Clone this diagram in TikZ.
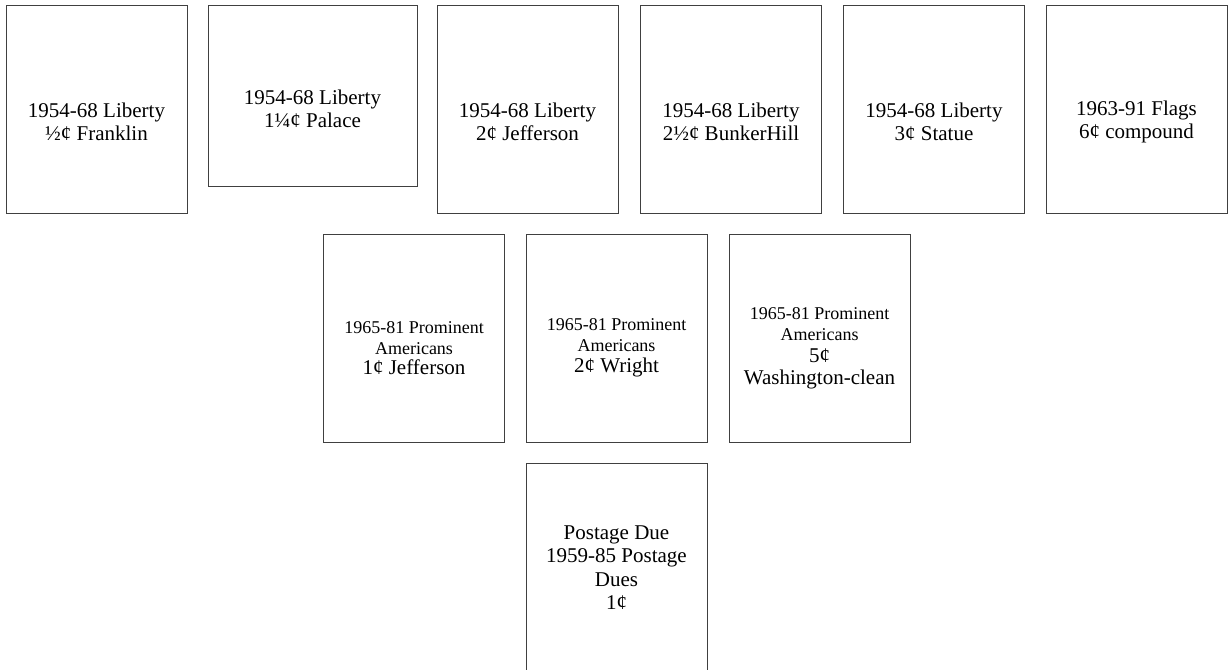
\documentclass[tikz,border=0pt]{standalone}
\usepackage{fontspec}
\setmainfont{Liberation Serif}
\usepackage{tikz}
\usetikzlibrary{positioning}
\newcommand{\sm}{\fontsize{18}{21}\selectfont}

\begin{document}
\begin{tikzpicture}[x=1pt,y=-1pt,
  stamp/.style={rectangle,draw=black!75,line width=0.8pt,minimum width=181pt,minimum height=208pt,inner sep=0pt},
  lbl/.style={align=center,font=\fontsize{21}{23.5}\selectfont,inner sep=0pt}
]
\useasboundingbox (0,0) rectangle (1228,669);
\node[stamp] (s1) at (96.5,109) {};
\node[stamp,minimum width=209pt,minimum height=181pt] (s2) at (312.5,95.5) {};
\node[stamp] (s3) at (527.5,109) {}; \node[stamp] (s4) at (731,109) {};
\node[stamp] (s5) at (934,109) {}; \node[stamp] (s6) at (1136.5,109) {};
\node[stamp] (p1) at (414,338) {}; \node[stamp] (p2) at (616.5,338) {};
\node[stamp] (p3) at (819.5,338) {};
\node[stamp] (d1) at (616.5,567) {};
\node[lbl] (t1) at ([yshift=-13pt]s1.center) {1954-68 Liberty\\½¢ Franklin};
\node[lbl] (t2) at ([yshift=-13.5pt]s2.center) {1954-68 Liberty\\1¼¢ Palace};
\node[lbl] (t3) at ([yshift=-13pt]s3.center) {1954-68 Liberty\\2¢ Jefferson};
\node[lbl] (t4) at ([yshift=-13pt]s4.center) {1954-68 Liberty\\2½¢ BunkerHill};
\node[lbl] (t5) at ([yshift=-13pt]s5.center) {1954-68 Liberty\\3¢ Statue};
\node[lbl] (t6) at ([yshift=-13pt]s6.center) {1963-91 Flags\\6¢ compound};
\node[lbl] (u1) at ([yshift=-10pt]p1.center) {{\sm 1965-81 Prominent}\\[-2.5pt]{\sm Americans}\\[-3pt]1¢ Jefferson};
\node[lbl] (u2) at ([yshift=-10pt]p2.center) {{\sm 1965-81 Prominent}\\[-2.5pt]{\sm Americans}\\[-3pt]2¢ Wright};
\node[lbl] (u3) at ([yshift=-10pt]p3.center) {{\sm 1965-81 Prominent}\\[-2.5pt]{\sm Americans}\\[-1pt]5¢\\[-2pt]Washington-clean};
\node[lbl] (v1) at ([yshift=-0.5pt]d1.center) {Postage Due\\1959-85 Postage\\Dues\\1¢};
\end{tikzpicture}
\end{document}
